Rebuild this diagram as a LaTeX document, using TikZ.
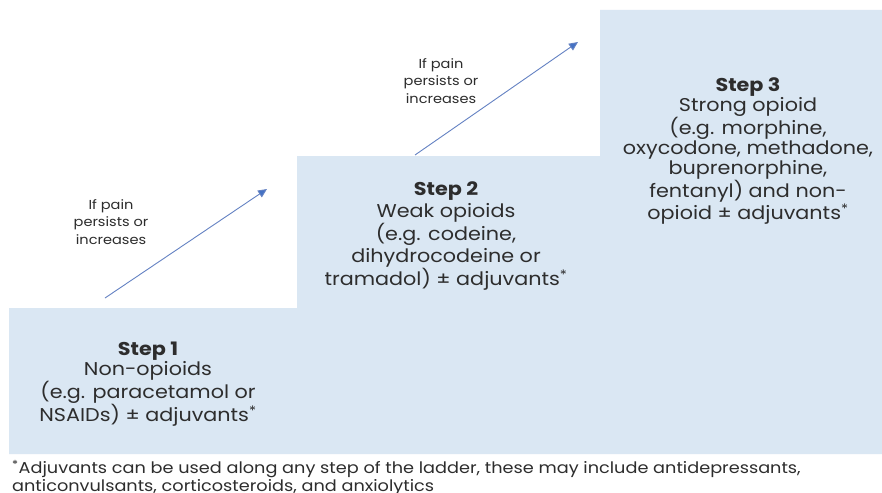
\documentclass[tikz,border=0pt]{standalone}
\usepackage{fontspec}
\setmainfont{Poppins}[FakeStretch=1.12]
\usetikzlibrary{arrows.meta}
\definecolor{stepblue}{RGB}{218,231,243}
\definecolor{txt}{RGB}{45,45,45}
\definecolor{arrline}{RGB}{100,130,195}
\definecolor{arrhead}{RGB}{68,114,196}
\tikzset{
  steptext/.style={align=center, text=txt, font=\fontsize{18.5}{20}\selectfont, inner sep=0pt},
  lbltext/.style={align=center, text=txt, font=\fontsize{13}{17.5}\selectfont, inner sep=0pt},
  noteText/.style={align=left, text=txt, font=\fontsize{15.8}{18}\selectfont, inner sep=0pt, anchor=north west},
  upArrow/.style={draw=arrline, line width=0.9pt, -{Triangle[length=9pt,width=8pt,fill=arrhead]}}
}
\newcommand{\adj}{adjuvants\textsuperscript{*}}
\begin{document}
\begin{tikzpicture}[x=1pt,y=-1pt]
\useasboundingbox (0,0) rectangle (882,492);
\fill[white] (0,0) rectangle (882,492);
\fill[stepblue] (9,454) -- (9,308) -- (297,308) -- (297,156) -- (600,156) -- (600,10) -- (882,10) -- (882,454) -- cycle;
\node[steptext] (s1) at (148,384) {\textbf{Step 1}\\Non-opioids\\(e.g. paracetamol or\\NSAIDs) ± \adj};
\node[steptext, font=\fontsize{18.5}{22}\selectfont] (s2) at (446,236) {\textbf{Step 2}\\Weak opioids\\(e.g. codeine,\\dihydrocodeine or\\tramadol) ± \adj};
\node[steptext] (s3) at (748,151) {\textbf{Step 3}\\Strong opioid\\(e.g. morphine,\\oxycodone, methadone,\\buprenorphine,\\fentanyl) and non-\\opioid ± \adj};
\node[lbltext] (l1) at (111,222) {If pain\\persists or\\increases};
\node[lbltext] (l2) at (441,81) {If pain\\persists or\\increases};
\coordinate (a1s) at (105,298);
\coordinate (a1e) at (267,189);
\coordinate (a2s) at (415,155);
\coordinate (a2e) at (578,42);
\draw[upArrow] (a1s) -- (a1e);
\draw[upArrow] (a2s) -- (a2e);
\node[noteText] (fn) at (12,460) {\textsuperscript{*}Adjuvants can be used along any step of the ladder, these may include antidepressants,\\anticonvulsants, corticosteroids, and anxiolytics};
\end{tikzpicture}
\end{document}
